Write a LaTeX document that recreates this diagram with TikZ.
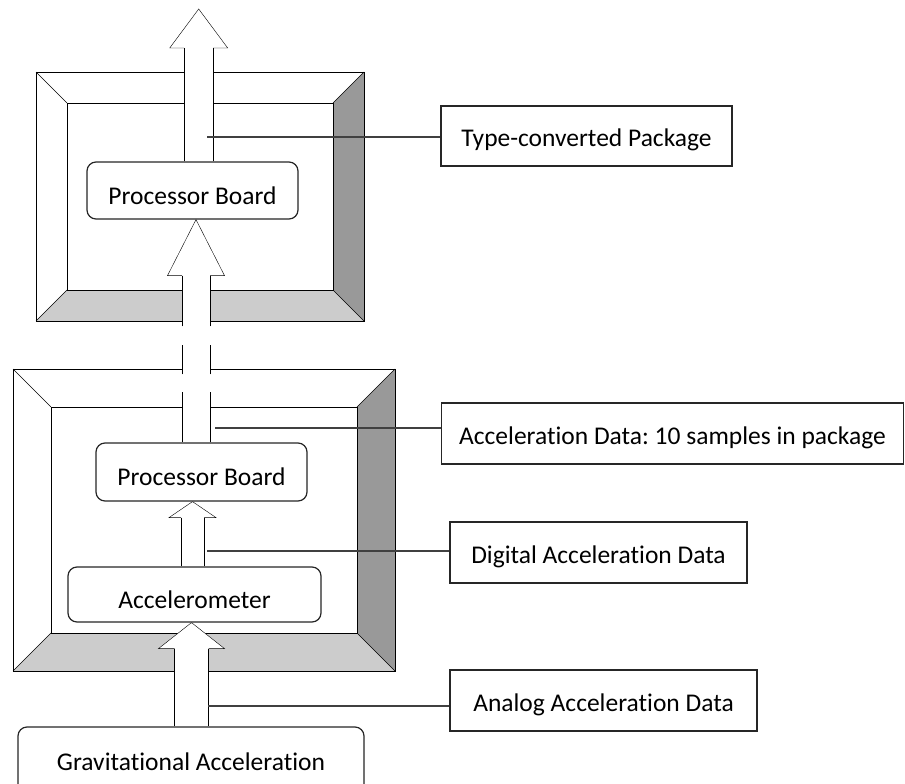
\documentclass[tikz,border=0pt]{standalone}
\usepackage{fontspec}
\setmainfont{Carlito}[Ligatures=NoCommon]
\frenchspacing
\usetikzlibrary{calc,backgrounds}

% frame with bevelled edges: x1, y1, x2, y2, depth
\newcommand\bevelframe[5]{%
  \fill[black!20] (#1,#4) -- (#1+#5,#4-#5) -- (#3-#5,#4-#5) -- (#3,#4) -- cycle;
  \fill[black!40] (#3,#2) -- (#3-#5,#2+#5) -- (#3-#5,#4-#5) -- (#3,#4) -- cycle;
  \draw (#1,#2) rectangle (#3,#4);
  \draw (#1+#5,#2+#5) rectangle (#3-#5,#4-#5);
  \draw (#1,#2) -- (#1+#5,#2+#5) (#3,#2) -- (#3-#5,#2+#5)
        (#1,#4) -- (#1+#5,#4-#5) (#3,#4) -- (#3-#5,#4-#5);
}

% hollow arrow: [shaft style] base, tip, shaft half width, head half width, head length
\newcommand\blockarrow[6][]{%
  \fill[white] let \p1=(#2), \p2=(#3) in
    (\x1-#4pt,\y1) -- (\x1-#4pt,\y2-#6pt) -- (\x1-#5pt,\y2-#6pt) -- (\x1,\y2)
    -- (\x1+#5pt,\y2-#6pt) -- (\x1+#4pt,\y2-#6pt) -- (\x1+#4pt,\y1) -- cycle;
  \draw let \p1=(#2), \p2=(#3) in
    (\x1-#4pt,\y2-#6pt) -- (\x1-#5pt,\y2-#6pt) -- (\x1,\y2)
    -- (\x1+#5pt,\y2-#6pt) -- (\x1+#4pt,\y2-#6pt);
  \draw[#1] let \p1=(#2), \p2=(#3) in (\x1-#4pt,\y1) -- (\x1-#4pt,\y2-#6pt);
  \draw[#1] let \p1=(#2), \p2=(#3) in (\x1+#4pt,\y1) -- (\x1+#4pt,\y2-#6pt);
}

\begin{document}
\begin{tikzpicture}[x=1pt, y=-1pt, line width=1.2pt, draw=black!85,
  every node/.style={font=\fontsize{25.5}{30}\selectfont},
  board/.style={draw=black!85, fill=white, rounded corners=9pt, text height=27pt, text depth=0pt},
  tag/.style={draw=black!85, fill=white, text height=21pt, text depth=0pt},
  lead/.style={draw=black!75, line width=1.1pt}]

\useasboundingbox (0,0) rectangle (905,784);

\node[board, minimum width=211pt, minimum height=57pt] (pbtop) at (192.5,190.5) {Processor Board};
\node[board, minimum width=211pt, minimum height=58pt] (pbbot) at (201.5,472) {Processor Board};
\node[board, minimum width=253pt, minimum height=55pt] (accel) at (194.5,594.5) {Accelerometer};
\node[board, minimum width=346pt, minimum height=72pt, text height=14pt] (grav) at (191,763) {Gravitational Acceleration};

\node[tag, minimum width=291pt, minimum height=60pt] (typeconv) at (586.5,136) {Type-converted Package};
\node[tag, minimum width=462pt, minimum height=61pt] (accdata) at (672.5,433.5) {Acceleration Data: 10 samples in package};
\node[tag, minimum width=297pt, minimum height=61pt] (digital) at (598.5,552.5) {Digital Acceleration Data};
\node[tag, minimum width=307pt, minimum height=61pt] (analog) at (603.5,700.5) {Analog Acceleration Data};

\coordinate (xa) at (191.5,0);
\coordinate (xb) at (192.5,0);
\coordinate (xc) at (196,0);
\coordinate (xd) at (198.7,0);
\coordinate (out) at (198.7,9);

\begin{scope}[on background layer]
\bevelframe{36}{72}{364}{321}{31}
\bevelframe{13}{369}{395}{671}{38}

\blockarrow{grav.north -| xa}{accel.south -| xa}{17}{33}{26}
\blockarrow{accel.north -| xb}{pbbot.south -| xb}{11.5}{23.5}{16}
\blockarrow[dash pattern=on 50pt off 18pt on 29pt off 19pt on 60pt]{pbbot.north -| xc}{pbtop.south -| xc}{14}{28.5}{56}
\blockarrow{pbtop.north -| xd}{out}{14.5}{29}{39}
\end{scope}

\coordinate (c1) at (207,137);
\coordinate (c2) at (215,428);
\coordinate (c3) at (207,551);
\coordinate (c4) at (208,706);
\draw[lead] (c1) -- (c1 -| typeconv.west);
\draw[lead] (c2) -- (c2 -| accdata.west);
\draw[lead] (c3) -- (c3 -| digital.west);
\draw[lead] (c4) -- (c4 -| analog.west);

\end{tikzpicture}
\end{document}
